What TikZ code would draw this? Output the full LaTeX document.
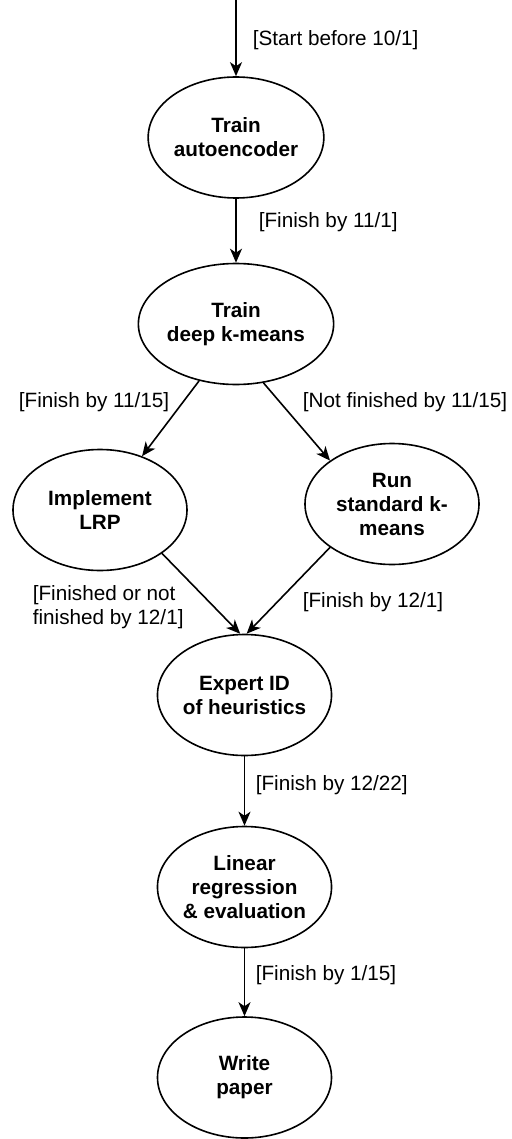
\documentclass[tikz,border=0pt]{standalone}
\usepackage{fontspec}
\setmainfont{Liberation Sans}
\usetikzlibrary{arrows.meta,shapes.geometric}
\begin{document}
\begin{tikzpicture}[x=1pt,y=-1pt,line width=1.6pt,
  task/.style={draw,ellipse,inner sep=0pt,minimum width=174pt,minimum height=121pt,align=center,font=\fontsize{20.7}{24}\selectfont\bfseries},
  cond/.style={inner sep=0pt,align=left,font=\fontsize{20.7}{24}\selectfont},
  flow/.style={-{Stealth[length=14pt,width=12pt,inset=4pt]}}]
\path[use as bounding box] (0,0) rectangle (511,1139);
\node[task] (tae) at (236,137.5) {Train\\autoencoder};
\node[task] (tdk) at (236,324) {Train\\deep k-means};
\node[task] (lrp) at (100,510) {Implement\\LRP};
\node[task] (rsk) at (392,504) {Run\\standard k-\\means};
\node[task] (eid) at (244.5,695) {Expert ID\\of heuristics};
\node[task] (lre) at (244.5,887) {Linear\\regression\\\& evaluation};
\node[task] (wpa) at (244.5,1077.5) {Write\\paper};
\coordinate (entry) at (236,0);
\node[cond,anchor=west] (cstart) at (252,40) {[Start before 10/1]};
\node[cond,anchor=west] (cae) at (258,222) {[Finish by 11/1]};
\node[cond,anchor=east] (cdone) at (170,402) {[Finish by 11/15]};
\node[cond,anchor=west] (cnotdone) at (302,402) {[Not finished by 11/15]};
\node[cond,anchor=west] (clrp) at (32,607) {[Finished or not\\finished by 12/1]};
\node[cond,anchor=west] (crsk) at (302,602) {[Finish by 12/1]};
\node[cond,anchor=west] (ceid) at (255,785) {[Finish by 12/22]};
\node[cond,anchor=west] (clre) at (255,975) {[Finish by 1/15]};
\draw[flow] (entry) -- (tae);
\draw[flow] (tae) -- (tdk);
\draw[flow] (tdk.237) -- (lrp.52);
\draw[flow] (tdk.295) -- (rsk.145);
\draw[flow] (lrp.325) -- (eid.94);
\draw[flow] (rsk.215) -- (eid.88);
\draw[flow] (eid) -- (lre);
\draw[flow] (lre) -- (wpa);
\end{tikzpicture}
\end{document}
